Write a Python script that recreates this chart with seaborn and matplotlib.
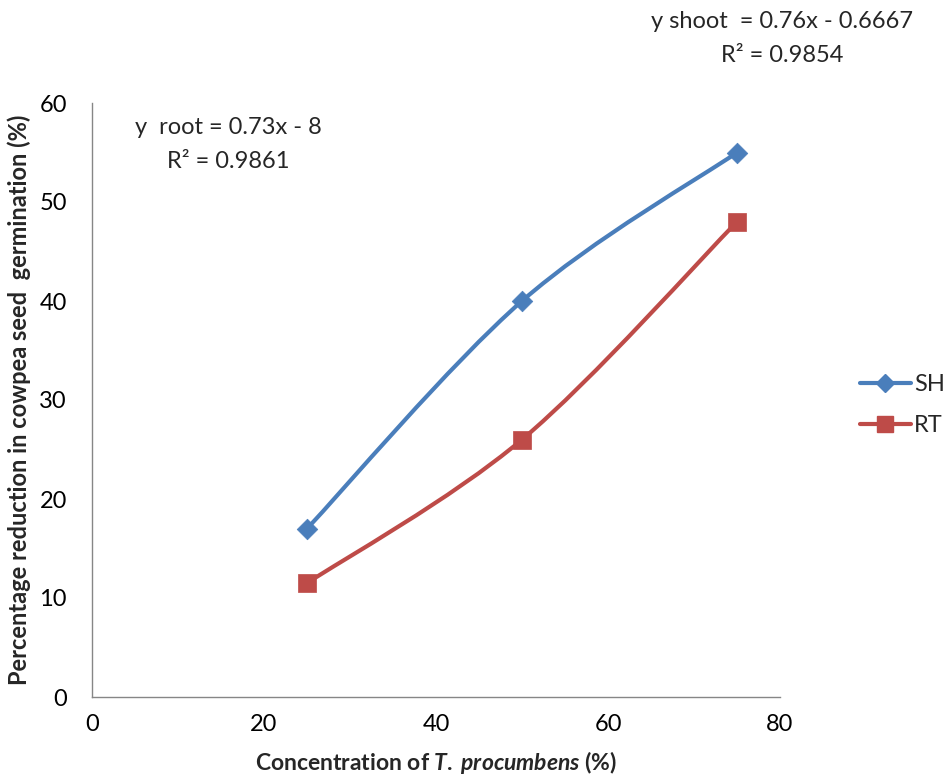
import numpy as np
import pandas as pd
import matplotlib
matplotlib.use("Agg")
import matplotlib.pyplot as plt
from matplotlib.path import Path
from matplotlib.patches import PathPatch
from matplotlib.lines import Line2D
import seaborn as sns

# Data
concentration = [25, 50, 75]
shoot_reduction = [17, 40, 55]
root_reduction = [11.5, 26, 48]
series_names = ["SH", "RT"]
x_ticks = [0, 20, 40, 60, 80]
y_ticks = [0, 10, 20, 30, 40, 50, 60]

colors = {"SH": "#4A7EBB", "RT": "#BE4B48"}
markers = {"SH": "D", "RT": "s"}
marker_sizes = {"SH": 110, "RT": 170}

sns.set_theme(style="white")
plt.rcParams["font.family"] = ["Lato", "DejaVu Sans"]
plt.rcParams["mathtext.fontset"] = "custom"
plt.rcParams["mathtext.it"] = "Lato:style=italic:weight=bold"
plt.rcParams["mathtext.bf"] = "Lato:weight=bold"
plt.rcParams["mathtext.rm"] = "Lato:weight=bold"

df = pd.DataFrame({
    "conc": concentration * 2,
    "value": shoot_reduction + root_reduction,
    "series": ["SH"] * 3 + ["RT"] * 3,
})

fig = plt.figure(figsize=(9.45, 7.79), dpi=100)
ax = fig.add_axes([92 / 945, 1 - 697 / 779, (780 - 92) / 945, (697 - 103) / 779])


def smooth_path(xs, ys):
    """Cardinal-spline style Bezier path through the points."""
    pts = np.column_stack([xs, ys]).astype(float)
    n = len(pts)
    verts = [pts[0]]
    codes = [Path.MOVETO]
    for i in range(n - 1):
        p0 = pts[i - 1] if i > 0 else pts[i]
        p1 = pts[i]
        p2 = pts[i + 1]
        p3 = pts[i + 2] if i + 2 < n else pts[i + 1]
        c1 = p1 + (p2 - p0) / 6.0
        c2 = p2 - (p3 - p1) / 6.0
        verts += [c1, c2, p2]
        codes += [Path.CURVE4] * 3
    return Path(verts, codes)


for name, vals in zip(series_names, [shoot_reduction, root_reduction]):
    patch = PathPatch(smooth_path(concentration, vals), facecolor="none",
                      edgecolor=colors[name], lw=3.0, capstyle="round",
                      joinstyle="round", zorder=2)
    ax.add_patch(patch)

for name in series_names:
    sub = df[df["series"] == name]
    sns.scatterplot(data=sub, x="conc", y="value", ax=ax, marker=markers[name],
                    s=marker_sizes[name], color=colors[name], edgecolor=colors[name],
                    linewidth=0.5, zorder=3, legend=False)

ax.set_xlim(0, 80)
ax.set_ylim(0, 60)
ax.set_xticks(x_ticks)
ax.set_yticks(y_ticks)
ax.tick_params(axis="both", which="major", direction="out", length=6, width=1,
               color="#868686", labelsize=17, labelcolor="black")
ax.tick_params(axis="y", pad=12)
ax.tick_params(axis="x", pad=6)
for side in ["top", "right"]:
    ax.spines[side].set_visible(False)
for side in ["left", "bottom"]:
    ax.spines[side].set_color("#868686")
    ax.spines[side].set_linewidth(1)
ax.grid(False)

ax.set_xlabel("Concentration of $\\mathit{T.\\;procumbens}$ (%)", fontsize=16.5,
              fontweight="bold", labelpad=10)
ax.set_ylabel("Percentage reduction in cowpea seed  germination (%)", fontsize=17,
              fontweight="bold", labelpad=6)

# Trendline equations
fig.text(782 / 945, 1 - 22 / 779, "y shoot  = 0.76x - 0.6667", ha="center",
         va="center", fontsize=17)
fig.text(782 / 945, 1 - 56 / 779, "R² = 0.9854", ha="center", va="center", fontsize=17)
fig.text(228 / 945, 1 - 128 / 779, "y  root = 0.73x - 8", ha="center", va="center",
         fontsize=17)
fig.text(228 / 945, 1 - 161 / 779, "R² = 0.9861", ha="center", va="center", fontsize=17)

handles = [Line2D([0], [0], color=colors[n], lw=3, marker=markers[n],
                  markersize=9.5 if n == "SH" else 12, markeredgecolor=colors[n])
           for n in series_names]
fig.legend(handles, series_names, loc="center left",
           bbox_to_anchor=(860 / 945, 1 - 405 / 779), frameon=False, fontsize=17,
           handlelength=2.15, handletextpad=0.15, labelspacing=0.85, borderpad=0,
           borderaxespad=0)

fig.savefig("out.png", dpi=100, facecolor="white")
